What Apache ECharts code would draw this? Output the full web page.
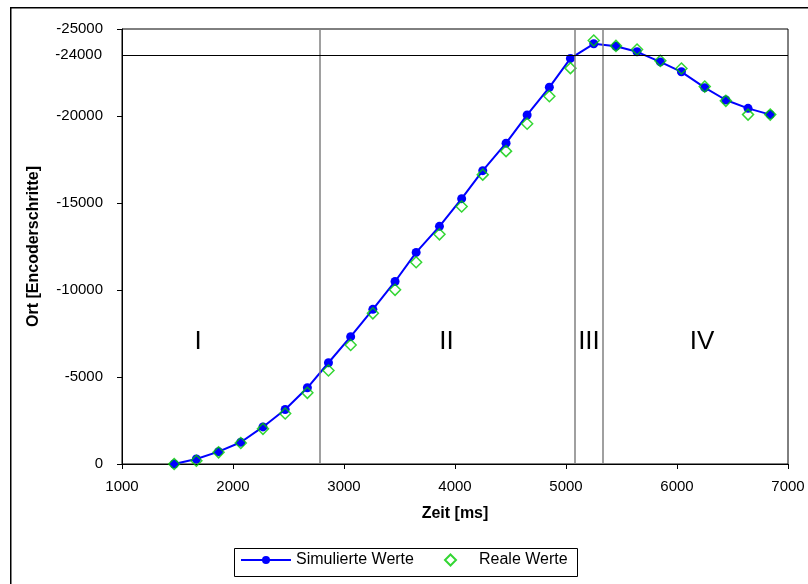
<!DOCTYPE html>
<html>
<head>
<meta charset="utf-8">
<script src="https://cdn.jsdelivr.net/npm/echarts@6/dist/echarts.min.js"></script>
<style>
html,body{margin:0;padding:0;background:#fff;}
#chart{width:808px;height:584px;}
</style>
</head>
<body>
<div id="chart"></div>
<script>
// ---- data ----
const timeMs = [1470,1670,1870,2070,2270,2470,2670,2860,3060,3260,3460,3650,3860,4060,4250,4460,4650,4850,5040,5250,5450,5640,5850,6040,6250,6440,6640,6840];
const simulierteWerte = [0,-290,-710,-1250,-2130,-3130,-4380,-5820,-7320,-8890,-10490,-12160,-13660,-15250,-16860,-18440,-20060,-21650,-23310,-24150,-24010,-23690,-23110,-22540,-21630,-20920,-20440,-20080];
const realeWerte = [0,-190,-670,-1210,-2020,-2900,-4090,-5370,-6840,-8660,-10010,-11600,-13200,-14800,-16630,-17980,-19560,-21140,-22750,-24340,-24030,-23820,-23170,-22730,-21690,-20870,-20080,-20080];
const phaseBoundaries = [2780, 5080, 5330];
const refLineValue = -23500;
const refLineLabel = '-24000';
const phaseNames = ['I','II','III','IV'];
const phaseLabelX = [1685, 3924, 5207, 6225];
const phaseLabelY = -7000;
const seriesNames = ['Simulierte Werte', 'Reale Werte'];

const simData = timeMs.map((t, i) => [t, simulierteWerte[i]]);
const realData = timeMs.map((t, i) => [t, realeWerte[i]]);

const chart = echarts.init(document.getElementById('chart'), null, {renderer: 'canvas'});
const font = 'Liberation Sans, Arial, sans-serif';
const plain = v => String(v);

const option = {
  animation: false,
  backgroundColor: '#fff',
  textStyle: {fontFamily: font},
  grid: {left: 122, right: 20, top: 29, bottom: 120, show: true, borderColor: '#000', borderWidth: 1, backgroundColor: 'transparent'},
  xAxis: {
    type: 'value', min: 1000, max: 7000, interval: 1000,
    name: 'Zeit [ms]', nameLocation: 'middle', nameGap: 42,
    nameTextStyle: {fontFamily: font, fontSize: 16, fontWeight: 'bold', color: '#000'},
    axisLine: {show: true, lineStyle: {color: '#000', width: 1}},
    axisTick: {show: true, length: 5, lineStyle: {color: '#000'}},
    axisLabel: {fontFamily: font, fontSize: 15, color: '#000', margin: 15, formatter: plain},
    splitLine: {show: false}
  },
  yAxis: {
    type: 'value', min: -25000, max: 0, interval: 5000, inverse: true,
    name: 'Ort [Encoderschritte]', nameLocation: 'middle', nameGap: 80, nameRotate: 90,
    nameTextStyle: {fontFamily: font, fontSize: 16, fontWeight: 'bold', color: '#000'},
    axisLine: {show: true, onZero: false, lineStyle: {color: '#000', width: 1}},
    axisTick: {show: true, length: 5, lineStyle: {color: '#000'}},
    axisLabel: {fontFamily: font, fontSize: 15, color: '#000', margin: 19, formatter: plain},
    splitLine: {show: false}
  },
  legend: [
    {
      data: [seriesNames[0]], left: 240, top: 552, padding: 0, itemWidth: 50, itemHeight: 10, itemGap: 0,
      textStyle: {fontFamily: font, fontSize: 16, color: '#000'}
    },
    {
      data: [seriesNames[1]], left: 444, top: 552, padding: 0, itemWidth: 11, itemHeight: 11, itemGap: 0,
      textStyle: {fontFamily: font, fontSize: 16, color: '#000', padding: [0, 0, 0, 18]}
    }
  ],
  graphic: [
    {type: 'rect', left: 234, top: 548, shape: {width: 343, height: 28}, style: {fill: 'transparent', stroke: '#000', lineWidth: 1}, z: -1},
    {type: 'rect', left: 10, top: 7, shape: {width: 900, height: 700}, style: {fill: 'transparent', stroke: '#000', lineWidth: 1.5}, z: -1}
  ],
  series: [
    {
      name: seriesNames[0], type: 'line', data: simData,
      symbol: 'circle', symbolSize: 9, showAllSymbol: true,
      lineStyle: {color: '#0000ff', width: 2},
      itemStyle: {color: '#0000ff'},
      z: 2,
      markLine: {
        silent: true, symbol: ['none', 'none'], animation: false,
        label: {show: false},
        data: phaseBoundaries.map(v => ({xAxis: v, lineStyle: {color: '#808080', width: 1.5, type: 'solid'}})).concat([
          {yAxis: refLineValue, lineStyle: {color: '#000', width: 1, type: 'solid'},
           label: {show: true, position: 'start', formatter: refLineLabel, distance: 20, color: '#000', fontFamily: font, fontSize: 15}}
        ])
      },
      markPoint: {
        silent: true, symbol: 'circle', symbolSize: 0,
        label: {show: true, position: 'inside', formatter: '{b}', color: '#000', fontFamily: font, fontSize: 26},
        data: phaseNames.map((n, i) => ({name: n, coord: [phaseLabelX[i], phaseLabelY]}))
      }
    },
    {
      name: seriesNames[1], type: 'scatter', data: realData,
      symbol: 'diamond', symbolSize: 11,
      itemStyle: {color: 'rgba(0,0,0,0)', borderColor: '#00cc00', borderWidth: 1.5},
      z: 3
    }
  ]
};
chart.setOption(option);
</script>
</body>
</html>
